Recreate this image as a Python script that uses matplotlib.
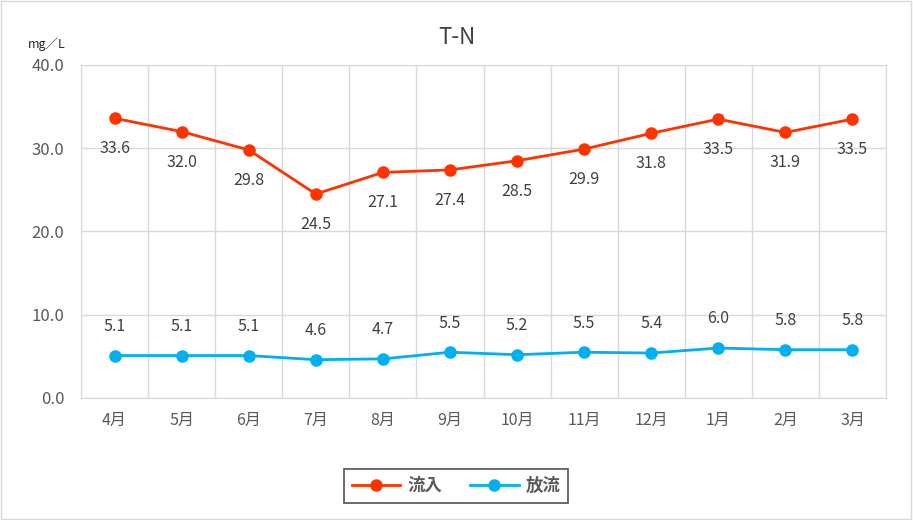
import matplotlib.pyplot as plt
from matplotlib.patches import Rectangle

plt.rcParams['font.family'] = ['Noto Sans CJK JP', 'DejaVu Sans']

# data
months = ['4月', '5月', '6月', '7月', '8月', '9月', '10月', '11月', '12月', '1月', '2月', '3月']
inflow = [33.6, 32.0, 29.8, 24.5, 27.1, 27.4, 28.5, 29.9, 31.8, 33.5, 31.9, 33.5]
outflow = [5.1, 5.1, 5.1, 4.6, 4.7, 5.5, 5.2, 5.5, 5.4, 6.0, 5.8, 5.8]

red = '#FF3300'
blue = '#00B0F0'
gray = '#595959'

fig = plt.figure(figsize=(9.13, 5.20), dpi=100)
ax = fig.add_axes([81 / 913, 1 - 398 / 520, (886 - 81) / 913, (398 - 65) / 520])

x = list(range(len(months)))
ax.plot(x, inflow, color=red, marker='o', markersize=8, linewidth=2, label='流入', zorder=3)
ax.plot(x, outflow, color=blue, marker='o', markersize=8, linewidth=2, label='放流', zorder=3)

for i, v in enumerate(inflow):
    ax.annotate(f'{v:.1f}', (i, v), xytext=(0, -22), textcoords='offset points',
                ha='center', va='center', fontsize=11.5, color='#404040')
for i, v in enumerate(outflow):
    ax.annotate(f'{v:.1f}', (i, v), xytext=(0, 21), textcoords='offset points',
                ha='center', va='center', fontsize=11.5, color='#404040')

ax.set_xlim(-0.5, len(months) - 0.5)
ax.set_ylim(0, 40)
ax.set_yticks([0, 10, 20, 30, 40])
ax.set_yticklabels([f'{t:.1f}' for t in [0, 10, 20, 30, 40]], fontsize=12, color=gray)
ax.set_xticks(x)
ax.set_xticklabels(months, fontsize=11.5, color=gray)
ax.set_xticks([i - 0.5 for i in range(len(months) + 1)], minor=True)
ax.grid(True, which='minor', axis='x', color='#D9D9D9', linewidth=1)
ax.grid(True, which='major', axis='y', color='#D9D9D9', linewidth=1)
ax.tick_params(which='both', length=0)
ax.tick_params(axis='x', pad=10)
ax.tick_params(axis='y', pad=12)
for s in ax.spines.values():
    s.set_color('#D9D9D9')

fig.text(0.5, 1 - 38 / 520, 'T-N', ha='center', va='center', fontsize=16, color='#404040')
fig.text(47 / 913, 1 - 44 / 520, 'mg／L', ha='center', va='center', fontsize=9, color='#262626')

leg = fig.legend(loc='center', bbox_to_anchor=(456 / 913, 1 - 486 / 520), ncol=2,
                 prop={'size': 12.5, 'weight': 'bold'}, frameon=True, fancybox=False,
                 edgecolor='#262626', handlelength=2.8, handletextpad=0.4,
                 columnspacing=1.6, borderpad=0.45)
leg.get_frame().set_linewidth(1.2)
for t in leg.get_texts():
    t.set_color(gray)

fig.patches.append(Rectangle((0.001, 0.001), 0.997, 0.997, transform=fig.transFigure,
                             fill=False, edgecolor='#D9D9D9', linewidth=1))

fig.savefig('out.png', dpi=100)
